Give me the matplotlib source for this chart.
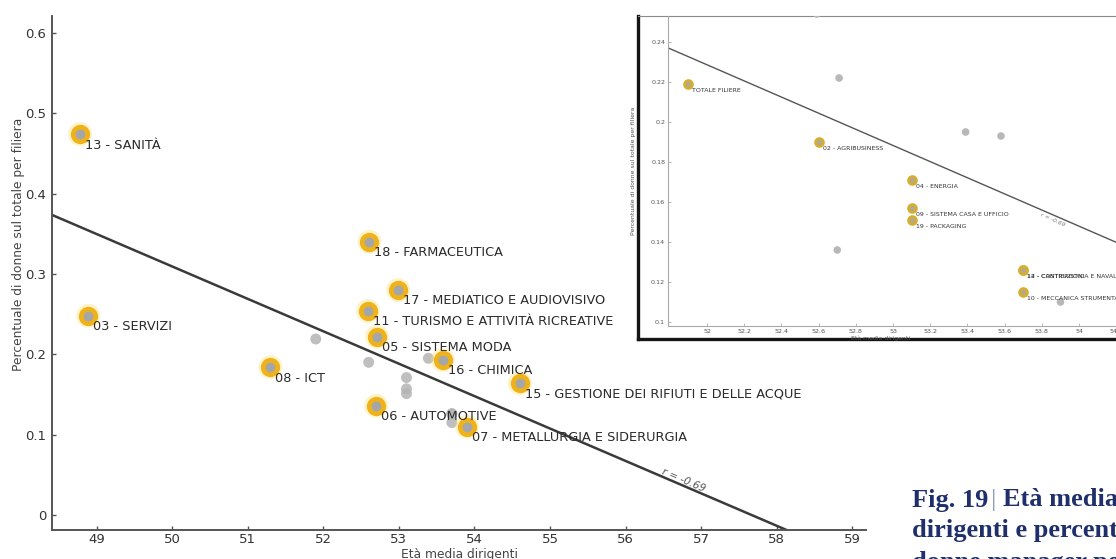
import matplotlib.pyplot as plt
from matplotlib.ticker import FuncFormatter

# filiere etichettate nel grafico principale: età media dirigenti / quota donne
main_names = ["13 - SANITÀ", "03 - SERVIZI", "08 - ICT", "18 - FARMACEUTICA",
              "17 - MEDIATICO E AUDIOVISIVO", "11 - TURISMO E ATTIVITÀ RICREATIVE",
              "05 - SISTEMA MODA", "16 - CHIMICA",
              "15 - GESTIONE DEI RIFIUTI E DELLE ACQUE", "06 - AUTOMOTIVE",
              "07 - METALLURGIA E SIDERURGIA"]
main_age = [48.78, 48.89, 51.30, 52.61, 52.99, 52.59, 52.71, 53.58, 54.60, 52.70, 53.90]
main_share = [0.474, 0.248, 0.184, 0.340, 0.280, 0.254, 0.222, 0.193, 0.164, 0.136, 0.110]

# filiere etichettate nel riquadro (zoom)
zoom_names = ["TOTALE FILIERE", "02 - AGRIBUSINESS", "04 - ENERGIA",
              "09 - SISTEMA CASA E UFFICIO", "19 - PACKAGING",
              "14 - COSTRUZIONI", "12 - CANTIERISTICA E NAVALMECCANICA",
              "10 - MECCANICA STRUMENTALE"]
zoom_age = [51.90, 52.60, 53.10, 53.10, 53.10, 53.70, 53.70, 53.70]
zoom_share = [0.219, 0.190, 0.171, 0.157, 0.151, 0.126, 0.126, 0.115]

# filiera senza etichetta
other_age = [53.39]
other_share = [0.195]

# retta di regressione
fit_intercept = 2.3268
fit_slope = -0.04035
r_text = "r = -0.69"

W, H = 1116, 559
fig = plt.figure(figsize=(W / 100, H / 100), dpi=100)


def px_rect(l, t, r, b):
    return [l / W, 1 - b / H, (r - l) / W, (b - t) / H]


def fit_line(ax, x0, x1, **kw):
    xs = [x0, x1]
    ys = [fit_intercept + fit_slope * x for x in xs]
    ax.plot(xs, ys, **kw)


# ---- grafico principale ----
ax = fig.add_axes(px_rect(52, 16, 866, 530))
ax.set_xlim(48.41, 59.18)
ax.set_ylim(-0.0187, 0.621)
for s in ["top", "right"]:
    ax.spines[s].set_visible(False)
for s in ["left", "bottom"]:
    ax.spines[s].set_color("#555555")
    ax.spines[s].set_linewidth(1.4)
ax.set_xticks(range(49, 60))
ax.set_yticks([0, 0.1, 0.2, 0.3, 0.4, 0.5, 0.6])
ax.yaxis.set_major_formatter(FuncFormatter(lambda v, p: "%g" % v))
ax.tick_params(direction="in", length=3, width=1, color="#555555",
               labelsize=9.5, labelcolor="#333333", pad=4)
ax.tick_params(axis="x", pad=2.5)
ax.set_xlabel("Età media dirigenti", fontsize=8.8, color="#444444")
ax.xaxis.set_label_coords(0.5, -0.035)
ax.set_ylabel("Percentuale di donne sul totale per filiera", fontsize=8.8, color="#444444")
ax.yaxis.set_label_coords(-0.033, 0.556)

fit_line(ax, 48.0, 60.0, color="#3a3a3a", lw=1.8, zorder=2)
ax.text(56.76, 0.0436, r_text, fontsize=7.5, color="#555555", rotation=-23,
        ha="center", va="center", style="italic")

# punti grigi (filiere del riquadro + non etichettata)
ax.scatter(zoom_age + other_age, zoom_share + other_share, s=62,
           color="#b4b4b4", alpha=0.85, edgecolor="none", zorder=3)

# punti evidenziati con alone giallo
ax.scatter(main_age, main_share, s=300, color="#ffe066", alpha=0.35,
           edgecolor="none", zorder=4)
ax.scatter(main_age, main_share, s=110, facecolor="#a3a7ab", edgecolor="#efb21a",
           linewidth=3.4, zorder=5)
for name, x, y in zip(main_names, main_age, main_share):
    ax.annotate(name, (x, y), xytext=(5, -11), textcoords="offset pixels",
                ha="left", va="center", fontsize=9.3, color="#2b2b2b", zorder=6)

# ---- riquadro di dettaglio ----
frame = fig.add_axes(px_rect(638, 16, 1200, 339))
frame.set_xticks([])
frame.set_yticks([])
frame.spines["right"].set_visible(False)
frame.spines["left"].set_linewidth(2.4)
frame.spines["left"].set_color("#151515")
frame.spines["bottom"].set_linewidth(2.4)
frame.spines["bottom"].set_color("#151515")
frame.spines["top"].set_linewidth(0.8)
frame.spines["top"].set_color("#8a8a8a")

ins = fig.add_axes(px_rect(668, 16, 1200, 326))
ins.patch.set_visible(False)
ins.set_xlim(51.79, 54.65)
ins.set_ylim(0.098, 0.253)
for s in ["top", "right"]:
    ins.spines[s].set_visible(False)
for s in ["left", "bottom"]:
    ins.spines[s].set_color("#aaaaaa")
    ins.spines[s].set_linewidth(0.8)
ins.set_xticks([52, 52.2, 52.4, 52.6, 52.8, 53, 53.2, 53.4, 53.6, 53.8, 54, 54.2, 54.4])
ins.set_yticks([0.1, 0.12, 0.14, 0.16, 0.18, 0.2, 0.22, 0.24])
ins.xaxis.set_major_formatter(FuncFormatter(lambda v, p: "%g" % round(v, 2)))
ins.yaxis.set_major_formatter(FuncFormatter(lambda v, p: "%g" % round(v, 2)))
ins.tick_params(direction="in", length=2, width=0.6, color="#aaaaaa",
                labelsize=4.6, labelcolor="#555555", pad=2)
ins.set_xlabel("Età media dirigenti", fontsize=4.4, color="#555555")
ins.xaxis.set_label_coords(0.4, -0.03)
ins.set_ylabel("Percentuale di donne sul totale per filiera", fontsize=4.4, color="#555555")
ins.yaxis.set_label_coords(-0.06, 0.5)

fit_line(ins, 51.0, 55.0, color="#555555", lw=1.0, zorder=2)
ins.text(53.86, 0.151, r_text, fontsize=4.2, color="#777777", rotation=-24,
         ha="center", va="center", style="italic")

ins.scatter(main_age + other_age, main_share + other_share, s=30,
            color="#b8b8b8", edgecolor="none", zorder=3)
ins.scatter(zoom_age, zoom_share, s=34, facecolor="#b3aa8c", edgecolor="#d8ae2a",
            linewidth=1.8, zorder=4)
for name, x, y in zip(zoom_names, zoom_age, zoom_share):
    ins.annotate(name, (x, y), xytext=(4, -6), textcoords="offset pixels",
                 ha="left", va="center", fontsize=4.5, color="#333333", zorder=5)

# ---- didascalia ----
cap_color = "#1f2f6b"
cap_size = 19
fig.text(912 / W, 1 - 500 / H, "Fig. 19", fontsize=cap_size, fontweight="bold",
         family="Liberation Serif", color=cap_color, ha="left", va="center")
fig.text(994 / W, 1 - 500 / H, "|", fontsize=cap_size, family="Liberation Serif",
         color="#8e9bbf", ha="center", va="center")
fig.text(1003 / W, 1 - 500 / H, "Età media", fontsize=cap_size, fontweight="bold",
         family="Liberation Serif", color=cap_color, ha="left", va="center")
fig.text(912 / W, 1 - 530 / H, "dirigenti e percentuale", fontsize=cap_size,
         fontweight="bold", family="Liberation Serif", color=cap_color,
         ha="left", va="center")
fig.text(912 / W, 1 - 562 / H, "donne manager per filiera", fontsize=cap_size,
         fontweight="bold", family="Liberation Serif", color=cap_color,
         ha="left", va="center")

fig.savefig("out.png", dpi=100)
